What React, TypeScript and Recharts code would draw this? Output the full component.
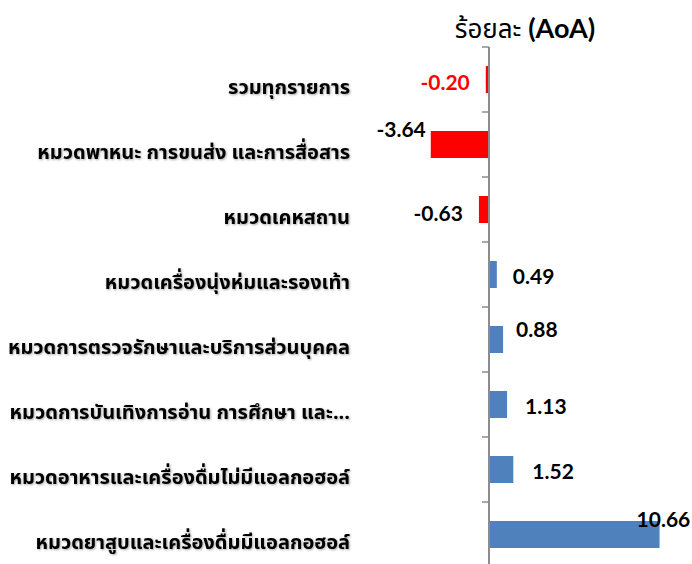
import React from 'react';
import { BarChart, Bar, XAxis, YAxis, Cell, LabelList, ReferenceLine } from 'recharts';

const categories = [
  'รวมทุกรายการ',
  'หมวดพาหนะ การขนส่ง และการสื่อสาร',
  'หมวดเคหสถาน',
  'หมวดเครื่องนุ่งห่มและรองเท้า',
  'หมวดการตรวจรักษาและบริการส่วนบุคคล',
  'หมวดการบันเทิงการอ่าน การศึกษา และ...',
  'หมวดอาหารและเครื่องดื่มไม่มีแอลกอฮอล์',
  'หมวดยาสูบและเครื่องดื่มมีแอลกอฮอล์',
];
const aoaValues = [-0.2, -3.64, -0.63, 0.49, 0.88, 1.13, 1.52, 10.66];

const data = categories.map((name, i) => ({ name, value: aoaValues[i] }));

// layout
const W = 692;
const H = 570;
const MARGIN = { top: 47, right: 11, bottom: 3, left: 0 };
const YAXIS_W = 425;
const X_DOMAIN: [number, number] = [-4, 12];
const PLOT_W = W - MARGIN.left - YAXIS_W - MARGIN.right;
const ZERO_X = MARGIN.left + YAXIS_W + ((0 - X_DOMAIN[0]) / (X_DOMAIN[1] - X_DOMAIN[0])) * PLOT_W;
const BAND = (H - MARGIN.top - MARGIN.bottom) / categories.length;
const LABEL_RIGHT = ZERO_X - 139;

const THAI_FONT = "Tahoma, 'Noto Sans Thai', 'Noto Sans', 'DejaVu Sans', sans-serif";
const NUM_FONT = "Lato, 'Noto Sans', sans-serif";
const AXIS_GRAY = '#8c8c8c';

// hand-placed data labels, like the source sheet: [dx, dy]
const labelNudge = [
  [0, 2], [11, -16], [0, 3], [0, 1], [-3, -11], [2, 1], [3, 1], [-39, -16],
];

function CategoryTick(props: any) {
  const { y, payload } = props;
  return (
    <g>
      <line x1={ZERO_X - 7} x2={ZERO_X} y1={y - BAND / 2} y2={y - BAND / 2}
        stroke={AXIS_GRAY} strokeWidth={1.5} />
      <text x={LABEL_RIGHT} y={y + 8} textAnchor="end" dominantBaseline="central"
        fontFamily={THAI_FONT} fontWeight="bold" fontSize={20} fill="#000"
        filter="url(#txtShadow)">
        {payload.value}
      </text>
    </g>
  );
}

function ValueLabel(props: any) {
  const { x, y, width, height, value } = props;
  const i = props.index ?? aoaValues.indexOf(value);
  const [dx, dy] = labelNudge[i] || [0, 0];
  const neg = value < 0;
  const end = neg ? Math.min(x, x + width) : Math.max(x, x + width);
  return (
    <text x={neg ? end - 16 + dx : end + 16 + dx} y={y + height / 2 + dy}
      textAnchor={neg ? 'end' : 'start'} dominantBaseline="central"
      fontFamily={NUM_FONT} fontWeight="bold" fontSize={21}
      fill={i === 0 ? '#ff0000' : '#000'}>
      {value.toFixed(2)}
    </text>
  );
}

export default function App() {
  return (
    <div style={{ position: 'absolute', left: 0, top: 0, width: W, height: 564, overflow: 'hidden', background: '#fff' }}>
      <svg width={0} height={0} style={{ position: 'absolute' }}>
        <defs>
          <filter id="txtShadow" x="-5%" y="-30%" width="110%" height="160%">
            <feDropShadow dx={1} dy={1} stdDeviation={0.8} floodColor="#000" floodOpacity={0.35} />
          </filter>
        </defs>
      </svg>
      <div style={{
        position: 'absolute', left: 425, top: 10, width: 200, textAlign: 'center',
        fontSize: 26, lineHeight: '36px', color: '#000', fontFamily: THAI_FONT, zIndex: 2,
        whiteSpace: 'nowrap',
      }}>
        ร้อยละ <span style={{ fontFamily: NUM_FONT, fontWeight: 'bold', fontSize: 27 }}>(AoA)</span>
      </div>
      <BarChart width={W} height={H} data={data} layout="vertical" margin={MARGIN}>
        <XAxis type="number" domain={X_DOMAIN} hide />
        <YAxis type="category" dataKey="name" width={YAXIS_W} axisLine={false}
          tickLine={false} tick={<CategoryTick />} interval={0} />
        <ReferenceLine x={0} stroke={AXIS_GRAY} strokeWidth={2} />
        <Bar dataKey="value" barSize={27} isAnimationActive={false}>
          {data.map((d, i) => (
            <Cell key={i} fill={d.value < 0 ? '#ff0000' : '#4f81bd'} />
          ))}
          <LabelList dataKey="value" content={<ValueLabel />} />
        </Bar>
      </BarChart>
    </div>
  );
}
